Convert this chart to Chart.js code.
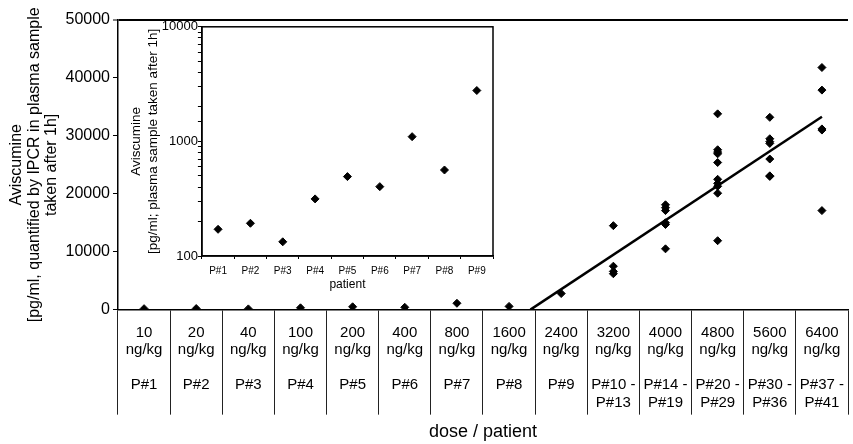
<!DOCTYPE html>
<html><head><meta charset="utf-8">
<script src="https://cdn.jsdelivr.net/npm/chart.js@4.4.0/dist/chart.umd.min.js"></script>
<style>
html,body{margin:0;padding:0;background:#fff;}
#wrap{position:relative;width:853px;height:444px;overflow:hidden;background:#fff;}
#main{position:absolute;left:0;top:0;}
#inset{position:absolute;left:120px;top:19px;}
</style></head><body>
<div id="wrap">
<canvas id="main" width="853" height="444"></canvas>
<canvas id="inset" width="380" height="274"></canvas>
</div>
<script>
// ---------- data ----------
const doses = ['10','20','40','100','200','400','800','1600','2400','3200','4000','4800','5600','6400'];
const patients = [['P#1'],['P#2'],['P#3'],['P#4'],['P#5'],['P#6'],['P#7'],['P#8'],['P#9'],
  ['P#10 -','P#13'],['P#14 -','P#19'],['P#20 -','P#29'],['P#30 -','P#36'],['P#37 -','P#41']];
const doseUnit = 'ng/kg';
// single-patient cohorts P#1 .. P#9 (pg/ml)
const singleValues = [171, 193, 133, 315, 493, 403, 1100, 563, 2780];
// multi-patient cohorts
const g3200 = [14500, 7500, 6600, 6200];
const g4000 = [18100, 17600, 17100, 15000, 14700, 10500];
const g4800 = [33800, 27600, 27200, 26900, 25400, 22500, 21800, 21300, 20100, 11900];
const g5600 = [33200, 29500, 29000, 28700, 26000, 23100, 23000];
const g6400 = [41800, 37900, 31200, 31000, 17100];
const groups = [g3200, g4000, g4800, g5600, g6400];
// regression line end points (category index, value)
const trendX = [7.41, 13];
const trendY = [0, 33300];
const mainYTicks = [0, 10000, 20000, 30000, 40000, 50000];
const insetLabels = ['P#1','P#2','P#3','P#4','P#5','P#6','P#7','P#8','P#9'];
const insetYTicks = [100, 1000, 10000];
const mainYTitle = ['Aviscumine','[pg/ml, quantified by IPCR in plasma sample','taken after 1h]'];
const insetYTitle = ['Aviscumine','[pg/ml; plasma sample taken after 1h]'];

// ---------- build ----------
const FONT = "'Liberation Sans', Arial, Helvetica, sans-serif";
Chart.defaults.font.family = FONT;
Chart.defaults.color = '#000';

const catLabels = doses.map((d, i) => [d, doseUnit, ''].concat(patients[i]));
const mainPoints = [];
singleValues.forEach((v, i) => mainPoints.push({x: i, y: v}));
groups.forEach((arr, gi) => arr.forEach(v => mainPoints.push({x: singleValues.length + gi, y: v})));
const trend = trendX.map((x, i) => ({x: x, y: trendY[i]}));
const yMax = mainYTicks[mainYTicks.length - 1];

new Chart(document.getElementById('main'), {
  type: 'scatter',
  data: {datasets: [
    {data: mainPoints, pointStyle: 'rectRot', pointRadius: 4, pointHoverRadius: 4,
     backgroundColor: '#000', borderColor: '#000', borderWidth: 1},
    {data: trend, showLine: true, pointRadius: 0, borderColor: '#000', borderWidth: 2.5, fill: false}
  ]},
  options: {
    responsive: false, animation: false, events: [],
    layout: {padding: {top: 20, right: 0, bottom: 0, left: 0}},
    plugins: {legend: {display: false}, tooltip: {enabled: false}},
    scales: {
      x: {type: 'linear', min: -0.5, max: doses.length - 0.5, display: false},
      cat: {type: 'category', labels: catLabels, position: 'bottom', offset: true,
        grid: {offset: true, drawOnChartArea: false, drawTicks: true, tickLength: 105, color: '#222', lineWidth: 1},
        border: {display: true, color: '#000', width: 1.5},
        ticks: {autoSkip: false, maxRotation: 0, minRotation: 0, padding: -91, color: '#000',
          font: {size: 15, lineHeight: 1.17}},
        title: {display: true, text: 'dose / patient', color: '#000', font: {size: 18, lineHeight: 1.2},
          padding: {top: 101, bottom: 1}}
      },
      y: {type: 'linear', min: mainYTicks[0], max: yMax,
        afterBuildTicks: s => { s.ticks = mainYTicks.map(v => ({value: v})); },
        ticks: {padding: 3, color: '#000', font: {size: 16}, callback: v => String(v)},
        grid: {color: c => (c.tick && c.tick.value === yMax) ? '#000' : 'rgba(0,0,0,0)',
               lineWidth: c => (c.tick && c.tick.value === yMax) ? 2 : 1,
               tickColor: '#000', tickWidth: 1, tickLength: 5, drawTicks: true},
        border: {display: true, color: '#000', width: 1.5},
        title: {display: true, text: mainYTitle, color: '#000', font: {size: 16, lineHeight: 1.1},
          padding: {top: 8, bottom: 1.7}}
      }
    }
  }
});

const framePlugin = {
  id: 'frame',
  afterDatasetsDraw(chart) {
    const a = chart.chartArea, ctx = chart.ctx;
    ctx.save();
    ctx.strokeStyle = '#000';
    ctx.lineWidth = 1.5;
    ctx.strokeRect(a.left, a.top, a.right - a.left, a.bottom - a.top);
    ctx.restore();
  }
};

new Chart(document.getElementById('inset'), {
  type: 'scatter',
  data: {datasets: [
    {data: singleValues.map((v, i) => ({x: i, y: v})), pointStyle: 'rectRot', pointRadius: 4, pointHoverRadius: 4,
     backgroundColor: '#000', borderColor: '#000', borderWidth: 1}
  ]},
  options: {
    responsive: false, animation: false, events: [],
    layout: {padding: {top: 6, right: 7, bottom: 0, left: 8}},
    plugins: {legend: {display: false}, tooltip: {enabled: false}},
    scales: {
      x: {type: 'linear', min: -0.5, max: insetLabels.length - 0.5, display: false},
      cat: {type: 'category', labels: insetLabels, position: 'bottom', offset: true,
        grid: {offset: true, drawOnChartArea: false, drawTicks: true, tickLength: 3, color: '#000', lineWidth: 1},
        border: {display: true, color: '#000', width: 1.5},
        ticks: {autoSkip: false, maxRotation: 0, minRotation: 0, padding: 6, color: '#000', font: {size: 10, lineHeight: 1.2}},
        title: {display: true, text: 'patient', color: '#000', font: {size: 12, lineHeight: 1.2}, padding: {top: -5.2, bottom: 0.8}}
      },
      y: {type: 'logarithmic', min: insetYTicks[0], max: insetYTicks[insetYTicks.length - 1],
        ticks: {autoSkip: false, padding: 0, color: '#000', font: {size: 13},
          callback: v => (insetYTicks.includes(v) ? String(v) : '')},
        grid: {drawOnChartArea: false, drawTicks: true, tickLength: 4, color: '#000', lineWidth: 1},
        border: {display: true, color: '#000', width: 1.5},
        title: {display: true, text: insetYTitle, color: '#000', font: {size: 13.5, lineHeight: 1.25},
          padding: {top: 0, bottom: 0}}
      }
    }
  },
  plugins: [framePlugin]
});
</script>
</body></html>
